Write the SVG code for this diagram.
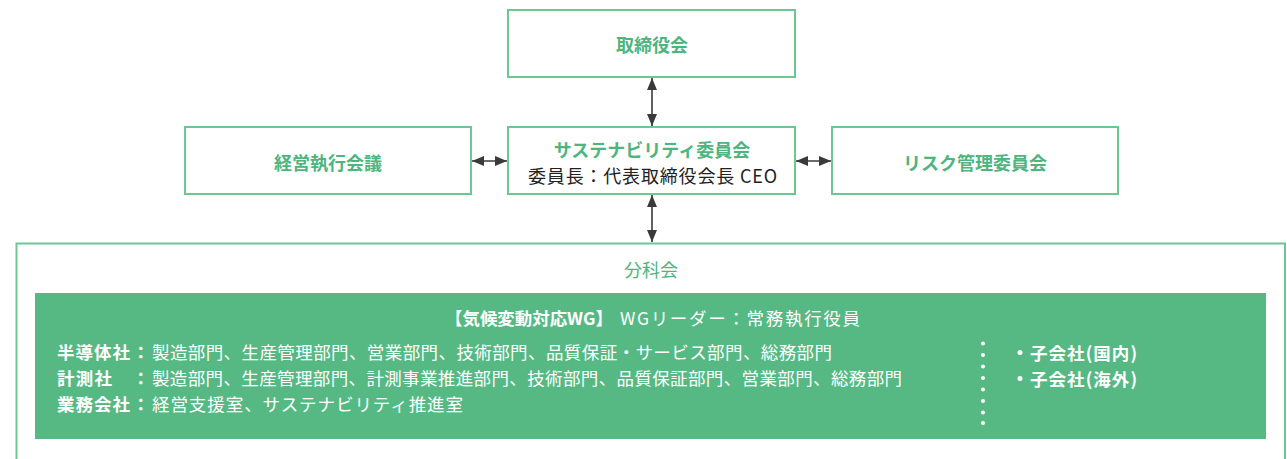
<svg xmlns="http://www.w3.org/2000/svg" width="1287" height="459" viewBox="0 0 1287 459">
<style>
text{font-family:"Noto Sans CJK JP","Noto Sans",sans-serif;}
.box{fill:#ffffff;stroke:#6cc795;stroke-width:2;}
.gt{fill:#4db57d;font-size:18px;font-weight:700;text-anchor:middle;dominant-baseline:central;}
.gr{fill:#4db57d;font-size:18px;font-weight:400;text-anchor:middle;dominant-baseline:central;}
.bt{fill:#222222;font-size:18px;dominant-baseline:central;}
.w{fill:#ffffff;font-size:17.5px;dominant-baseline:central;}
.wb{fill:#ffffff;font-size:17.5px;font-weight:700;dominant-baseline:central;}
.con{stroke:#3a3a3a;stroke-width:1.6;fill:none;marker-start:url(#ah);marker-end:url(#ah);}
</style>
<defs>
<marker id="ah" viewBox="0 0 12 12" refX="12" refY="6" markerWidth="12" markerHeight="12" markerUnits="userSpaceOnUse" orient="auto-start-reverse">
<path d="M0,1 L12,6 L0,11 Z" fill="#3a3a3a"/>
</marker>
</defs>
<g id="connectors">
<line class="con" x1="652" y1="78" x2="652" y2="126"/>
<line class="con" x1="652" y1="195" x2="652" y2="242"/>
<line class="con" x1="472" y1="161" x2="507" y2="161"/>
<line class="con" x1="796" y1="161" x2="831" y2="161"/>
</g>
<g id="board">
<rect class="box" x="508" y="10" width="287" height="67"/>
<text class="gt" x="652" y="44">取締役会</text>
</g>
<g id="exec">
<rect class="box" x="185" y="127" width="286" height="67"/>
<text class="gt" x="328" y="162">経営執行会議</text>
</g>
<g id="sustain">
<rect class="box" x="508" y="127" width="287" height="67"/>
<text class="gt" x="652" y="148.5">サステナビリティ委員会</text>
<text class="bt" x="528" y="175" textLength="249" lengthAdjust="spacing">委員長：代表取締役会長 CEO</text>
</g>
<g id="risk">
<rect class="box" x="832" y="127" width="286" height="67"/>
<text class="gt" x="975" y="162">リスク管理委員会</text>
</g>
<g id="bunkakai">
<path d="M16.5,470 L16.5,243.5 L1285,243.5 L1285,470" fill="none" stroke="#6cc795" stroke-width="2"/>
<text class="gr" x="651" y="269">分科会</text>
<rect x="35" y="293" width="1231" height="146" fill="#56b984"/>
<text class="wb" x="445" y="317" textLength="168" lengthAdjust="spacingAndGlyphs">【気候変動対応WG】</text>
<text class="w" x="620" y="317" textLength="240" lengthAdjust="spacing">WGリーダー：常務執行役員</text>
<text class="wb" x="57" y="351" textLength="73" lengthAdjust="spacing">半導体社</text>
<text class="wb" x="132" y="351">：</text>
<text class="w" x="152" y="351" textLength="680" lengthAdjust="spacing">製造部門、生産管理部門、営業部門、技術部門、品質保証・サービス部門、総務部門</text>
<text class="wb" x="57" y="377" textLength="55" lengthAdjust="spacing">計測社</text>
<text class="wb" x="132" y="377">：</text>
<text class="w" x="152" y="377" textLength="750" lengthAdjust="spacing">製造部門、生産管理部門、計測事業推進部門、技術部門、品質保証部門、営業部門、総務部門</text>
<text class="wb" x="57" y="403" textLength="73" lengthAdjust="spacing">業務会社</text>
<text class="wb" x="132" y="403">：</text>
<text class="w" x="152" y="403" textLength="311" lengthAdjust="spacing">経営支援室、サステナビリティ推進室</text>
<g fill="#ffffff">
<circle cx="983" cy="343.5" r="2"/>
<circle cx="983" cy="355" r="2"/>
<circle cx="983" cy="366.5" r="2"/>
<circle cx="983" cy="378" r="2"/>
<circle cx="983" cy="389.5" r="2"/>
<circle cx="983" cy="401" r="2"/>
<circle cx="983" cy="412.5" r="2"/>
<circle cx="983" cy="423" r="2"/>
<circle cx="1020" cy="352.5" r="2.5"/>
<circle cx="1020" cy="378.5" r="2.5"/>
</g>
<text class="wb" x="1030" y="352" textLength="107" lengthAdjust="spacing">子会社(国内)</text>
<text class="wb" x="1030" y="378" textLength="107" lengthAdjust="spacing">子会社(海外)</text>
</g>
</svg>
